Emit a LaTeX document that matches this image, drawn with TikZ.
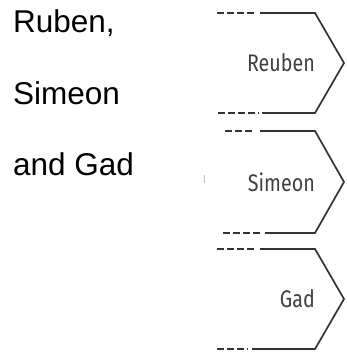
\documentclass[tikz,border=0pt]{standalone}
\usepackage{fontspec}
\setmainfont{Liberation Sans}
\newfontfamily\narrowfont[FakeStretch=0.82]{Fira Sans}

\begin{document}
\begin{tikzpicture}[x=1pt,y=-1pt,
  plain/.style={font=\fontsize{31.5}{31.5}\selectfont,inner sep=0pt,anchor=base west},
  tribe/.style={font=\narrowfont\fontsize{24}{24}\selectfont,text=black!75,inner sep=0pt,anchor=east},
  edge/.style={draw=black!80,line width=1.7pt},
  dashes/.style={draw=black!80,line width=1.7pt,dash pattern=on 6.5pt off 3.5pt}]
\useasboundingbox (0,0) rectangle (346,353);
\node[plain] (ruben) at (13,33) {Ruben,};
\node[plain] (simeon) at (13,104) {Simeon};
\node[plain] (gad) at (13,175) {and Gad};
% the three tribes
\foreach \n/\t/\yt/\yb/\ta/\tb/\ts/\ba/\bb/\bs in %
{reuben/Reuben/13/113/217/255/260/218/259/262,
 simeon/Simeon/131/233/225/252/260/223/262/265,
 gad/Gad/249/349/217/255/260/217/248/252} {
   \coordinate (\n-tip) at (344,{(\yt+\yb)/2});
   \draw[dashes] (\ta,\yt) -- (\tb,\yt);
   \draw[dashes] (\ba,\yb) -- (\bb,\yb);
   \draw[edge] (\ts,\yt) -- (315,\yt) -- (\n-tip) -- (315,\yb) -- (\bs,\yb);
   \node[tribe] (\n) at (315,{(\yt+\yb)/2}) {\t};
}
\draw[black!25,line width=0.8pt] (204,175) -- (204,183);
\end{tikzpicture}
\end{document}
